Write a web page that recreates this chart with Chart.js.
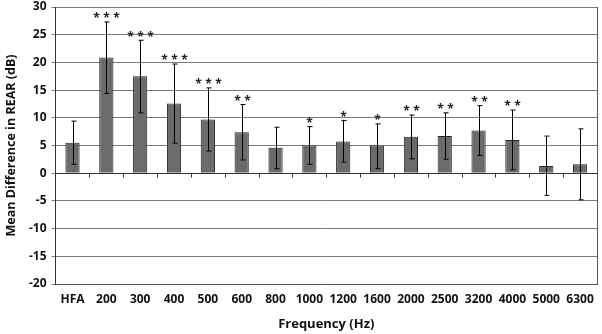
<!DOCTYPE html>
<html>
<head>
<meta charset="utf-8">
<script src="https://cdn.jsdelivr.net/npm/chart.js@4"></script>
<style>
  html, body { margin: 0; padding: 0; background: #fff; }
  #wrap { width: 602px; height: 334px; }
</style>
</head>
<body>
<div id="wrap"><canvas id="chart" width="602" height="334"></canvas></div>
<script>
  // frequency bands
  const categories = ['HFA', '200', '300', '400', '500', '600', '800', '1000', '1200', '1600', '2000', '2500', '3200', '4000', '5000', '6300'];
  // mean difference in REAR (dB)
  const meanDiff = [5.5, 20.9, 17.5, 12.6, 9.7, 7.4, 4.6, 5.0, 5.7, 5.0, 6.6, 6.7, 7.7, 6.0, 1.3, 1.6];
  // error bar ends
  const errHigh = [9.4, 27.3, 24.0, 19.7, 15.4, 12.4, 8.3, 8.4, 9.5, 8.9, 10.5, 10.9, 12.2, 11.4, 6.7, 8.0];
  const errLow = [1.6, 14.4, 10.9, 5.4, 4.0, 2.4, 0.8, 1.6, 2.0, 0.8, 2.6, 2.5, 3.2, 0.6, -4.0, -4.8];
  // significance marks
  const stars = ['', '***', '***', '***', '***', '**', '', '*', '*', '*', '**', '**', '**', '**', '', ''];
  const yTicks = [-20, -15, -10, -5, 0, 5, 10, 15, 20, 25, 30];

  const FONT = '"Open Sans", Lato, sans-serif';

  // zero line with small tick marks between categories
  const zeroAxis = {
    id: 'zeroAxis',
    beforeDatasetsDraw(chart) {
      const ctx = chart.ctx;
      const x = chart.scales.x;
      const y0 = Math.round(chart.scales.y.getPixelForValue(0)) + 0.5;
      const half = (x.getPixelForValue(1) - x.getPixelForValue(0)) / 2;
      ctx.save();
      ctx.strokeStyle = '#333';
      ctx.lineWidth = 1;
      ctx.beginPath();
      ctx.moveTo(chart.chartArea.left, y0);
      ctx.lineTo(chart.chartArea.right, y0);
      for (let i = 1; i < categories.length; i++) {
        const px = Math.round(x.getPixelForValue(i) - half) + 0.5;
        ctx.moveTo(px, y0);
        ctx.lineTo(px, y0 + 4);
      }
      ctx.stroke();
      ctx.restore();
    }
  };

  const errorBars = {
    id: 'errorBars',
    afterDatasetsDraw(chart) {
      const ctx = chart.ctx;
      const x = chart.scales.x;
      const y = chart.scales.y;
      ctx.save();
      ctx.strokeStyle = '#000';
      ctx.lineWidth = 1;
      categories.forEach(function (c, i) {
        const px = Math.round(x.getPixelForValue(i)) + 0.5;
        const top = y.getPixelForValue(errHigh[i]);
        const bot = y.getPixelForValue(errLow[i]);
        ctx.beginPath();
        ctx.moveTo(px, top); ctx.lineTo(px, bot);
        ctx.moveTo(px - 2, top); ctx.lineTo(px + 3, top);
        ctx.moveTo(px - 2, bot); ctx.lineTo(px + 3, bot);
        ctx.stroke();
        const s = stars[i];
        if (s) {
          ctx.fillStyle = '#222';
          ctx.font = 'bold 12px ' + FONT;
          ctx.textAlign = 'center';
          ctx.textBaseline = 'middle';
          const gap = 10;
          const start = px - (s.length - 1) * gap / 2;
          for (let k = 0; k < s.length; k++) {
            ctx.fillText('*', start + k * gap, top - 3);
          }
        }
      });
      ctx.restore();
    }
  };

  new Chart(document.getElementById('chart'), {
    type: 'bar',
    data: {
      labels: categories,
      datasets: [{
        data: meanDiff,
        backgroundColor: '#6b6b6b',
        borderColor: '#222',
        borderWidth: 1,
        barPercentage: 0.42,
        categoryPercentage: 1
      }]
    },
    options: {
      responsive: false,
      animation: false,
      layout: { padding: { top: 0, right: 5, left: 4, bottom: 2 } },
      plugins: { legend: { display: false }, tooltip: { enabled: false } },
      scales: {
        x: {
          grid: { display: false, drawTicks: false },
          border: { display: true, color: '#555' },
          ticks: { color: '#111', font: { family: FONT, size: 12, weight: 'bold' }, padding: 8 },
          title: { display: true, text: 'Frequency (Hz)', color: '#111', font: { family: FONT, size: 13, weight: 'bold' }, padding: { top: 2, bottom: 0 } }
        },
        y: {
          min: -20,
          max: 30,
          afterBuildTicks: function (axis) { axis.ticks = yTicks.map(function (v) { return { value: v }; }); },
          afterFit: function (axis) { axis.paddingTop = 7; },
          grid: { color: '#7a7a7a', drawTicks: true, tickLength: 4 },
          border: { display: true, color: '#333' },
          ticks: { color: '#111', font: { family: FONT, size: 12, weight: 'bold' }, padding: 5 },
          title: { display: true, text: 'Mean Difference in REAR (dB)', color: '#111', font: { family: FONT, size: 12.5, weight: 'bold' }, padding: { top: 0, bottom: 5 } }
        },
        yR: {
          position: 'right',
          min: -20, max: 30,
          grid: { drawOnChartArea: false, drawTicks: false },
          border: { display: true, color: '#555' },
          ticks: { display: false }
        }
      }
    },
    plugins: [zeroAxis, errorBars]
  });
</script>
</body>
</html>
